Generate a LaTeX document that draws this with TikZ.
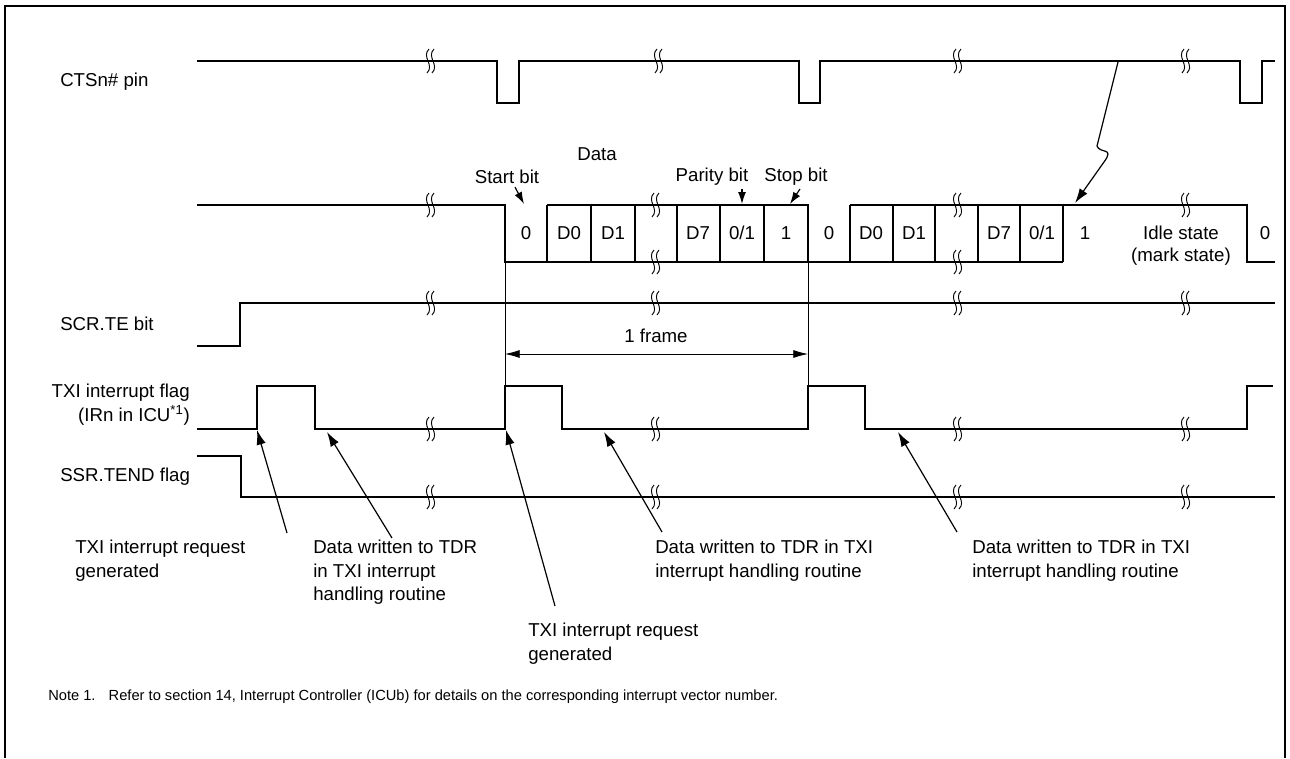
\documentclass[tikz,border=0pt]{standalone}
\usepackage{fontspec}
\setmainfont{Liberation Sans}
\usetikzlibrary{arrows.meta}
\begin{document}
\begin{tikzpicture}[x=0.75pt,y=-0.75pt, line join=miter,
  sig/.style={line width=1.5pt},
  thinline/.style={line width=0.6pt},
  lbl/.style={font=\fontsize{14}{17.5}\selectfont, inner sep=0pt},
  notefont/.style={font=\fontsize{11}{13}\selectfont, inner sep=0pt},
  ptr/.style={line width=0.9pt, -{Latex[length=11pt,width=7pt]}},
  sptr/.style={line width=0.9pt, -{Latex[length=9pt,width=6pt]}},
  brk/.pic={\draw[line width=0.7pt] (-1,-12) .. controls (-9,-4) and (5,4) .. (-3,12);
            \draw[line width=0.7pt] (4,-12) .. controls (-4,-4) and (10,4) .. (2,12);}
]
\useasboundingbox (0,0) rectangle (1290,758);
% frame
\draw[line width=2.2pt] (5,758) -- (5,6) -- (1285,6) -- (1285,758);

% ---------- CTSn# ----------
\node[lbl, anchor=west] (lcts) at (60,82) {CTSn\# pin};
\draw[sig] (197,61) -- (497,61) -- (497,103) -- (519,103) -- (519,61) -- (799,61) -- (799,103) -- (820,103) -- (820,61)
  -- (1240,61) -- (1240,103) -- (1262,103) -- (1262,61) -- (1275,61);
\foreach \x in {430,658,957,1185} \pic at (\x,61) {brk};

% ---------- Data line ----------
\draw[sig] (197,205) -- (505,205) -- (505,262) -- (1063,262);
\draw[sig] (547,205) -- (808,205) -- (808,262);
\draw[sig] (850,205) -- (1247,205) -- (1247,262) -- (1275,262);
\foreach \x in {547,591,635,677,720,764,850,893,935,978,1020,1063} \draw[sig] (\x,205) -- (\x,262);
\foreach \p in {(430,205),(655,205),(655,262),(957,205),(957,262),(1185,205)} \pic at \p {brk};

\foreach \x/\t/\n in {526/0/c1,569/D0/c2,613/D1/c3,698/D7/c4,742/0\slash 1/c5,786/1/c6,
                      829/0/c7,871/D0/c8,914/D1/c9,999/D7/c10,1042/0\slash 1/c11,1085/1/c12,1265/0/c13}
  \node[lbl] (\n) at (\x,233) {\t};
\node[lbl] (idle) at (1181,233) {Idle state};
\node[lbl] (mark) at (1181,257) {(mark state)};

\node[lbl] (ldata) at (597,154) {Data};
\node[lbl] (lstart) at (507,177) {Start bit};
\node[lbl] (lpar) at (712,177) {Parity bit};
\node[lbl] (lstop) at (796,177) {Stop bit};
\coordinate (tstart) at (524,204);
\coordinate (tpar) at (742,204);
\coordinate (tstop) at (790,204);
\draw[sptr] ([xshift=6]lstart.south) ++(0,3) -- (tstart);
\draw[sptr] (lpar.south -| tpar) ++(0,3) -- (tpar);
\draw[sptr] ([xshift=3]lstop.south) ++(0,3) -- (tstop);

% CTS -> data squiggle
\coordinate (sq0) at (1118,62);
\coordinate (sqtip) at (1075,203);
\draw[line width=0.9pt, -{Latex[length=11pt,width=7pt]}] (sq0) -- (1097,146) .. controls (1100,154) and (1115,147) .. (1104,162) -- (sqtip);

% frame markers
\draw[thinline] (505,262) -- (505,386);
\draw[thinline] (808,262) -- (808,386);

% ---------- SCR.TE ----------
\node[lbl, anchor=west] (lscr) at (60,324) {SCR.TE bit};
\draw[sig] (197,346) -- (240,346) -- (240,303) -- (1275,303);
\foreach \x in {430,655,957,1185} \pic at (\x,303) {brk};

% 1 frame
\coordinate (f1) at (505,354);
\coordinate (f2) at (808,354);
\draw[thinline, {Latex[length=11pt,width=6pt]}-{Latex[length=11pt,width=6pt]}] (f1) -- (f2);
\node[lbl] (lframe) at (656,336) {1 frame};

% ---------- TXI ----------
\node[lbl, anchor=east, align=right, font=\fontsize{14}{18}\selectfont] (ltxi) at (190,405) {TXI interrupt flag\\(IRn in ICU\textsuperscript{*1})};
\draw[sig] (197,429) -- (257,429) -- (257,386) -- (315,386) -- (315,429) -- (505,429) -- (505,386) -- (562,386) -- (562,429)
  -- (808,429) -- (808,386) -- (865,386) -- (865,429) -- (1247,429) -- (1247,386) -- (1273,386);
\foreach \x in {430,655,957,1185} \pic at (\x,429) {brk};

% ---------- SSR.TEND ----------
\node[lbl, anchor=west] (lssr) at (60,477) {SSR.TEND flag};
\draw[sig] (197,456) -- (241,456) -- (241,497) -- (1275,497);
\foreach \x in {430,655,957,1185} \pic at (\x,497) {brk};

% ---------- bottom annotations ----------
\node[lbl, anchor=north west, align=left] (b1) at (75,540) {TXI interrupt request\\generated};
\node[lbl, anchor=north west, align=left] (b2) at (313,540) {Data written to TDR\\in TXI interrupt\\handling routine};
\node[lbl, anchor=north west, align=left] (b3) at (528,623) {TXI interrupt request\\generated};
\node[lbl, anchor=north west, align=left] (b4) at (655,540) {Data written to TDR in TXI\\interrupt handling routine};
\node[lbl, anchor=north west, align=left] (b5) at (972,540) {Data written to TDR in TXI\\interrupt handling routine};

\coordinate (a1s) at (287,533); \coordinate (a1t) at (257,430);
\coordinate (a2s) at (392,538); \coordinate (a2t) at (327,432);
\coordinate (a3s) at (555,606); \coordinate (a3t) at (506,430);
\coordinate (a4s) at (662,532); \coordinate (a4t) at (604,432);
\coordinate (a5s) at (957,532); \coordinate (a5t) at (898,432);
\foreach \i in {1,...,5} \draw[ptr] (a\i s) -- (a\i t);

\node[notefont, anchor=west] (note) at (48,697) {Note 1.\hspace{0.9em}Refer to section 14, Interrupt Controller (ICUb) for details on the corresponding interrupt vector number.};
\end{tikzpicture}
\end{document}
